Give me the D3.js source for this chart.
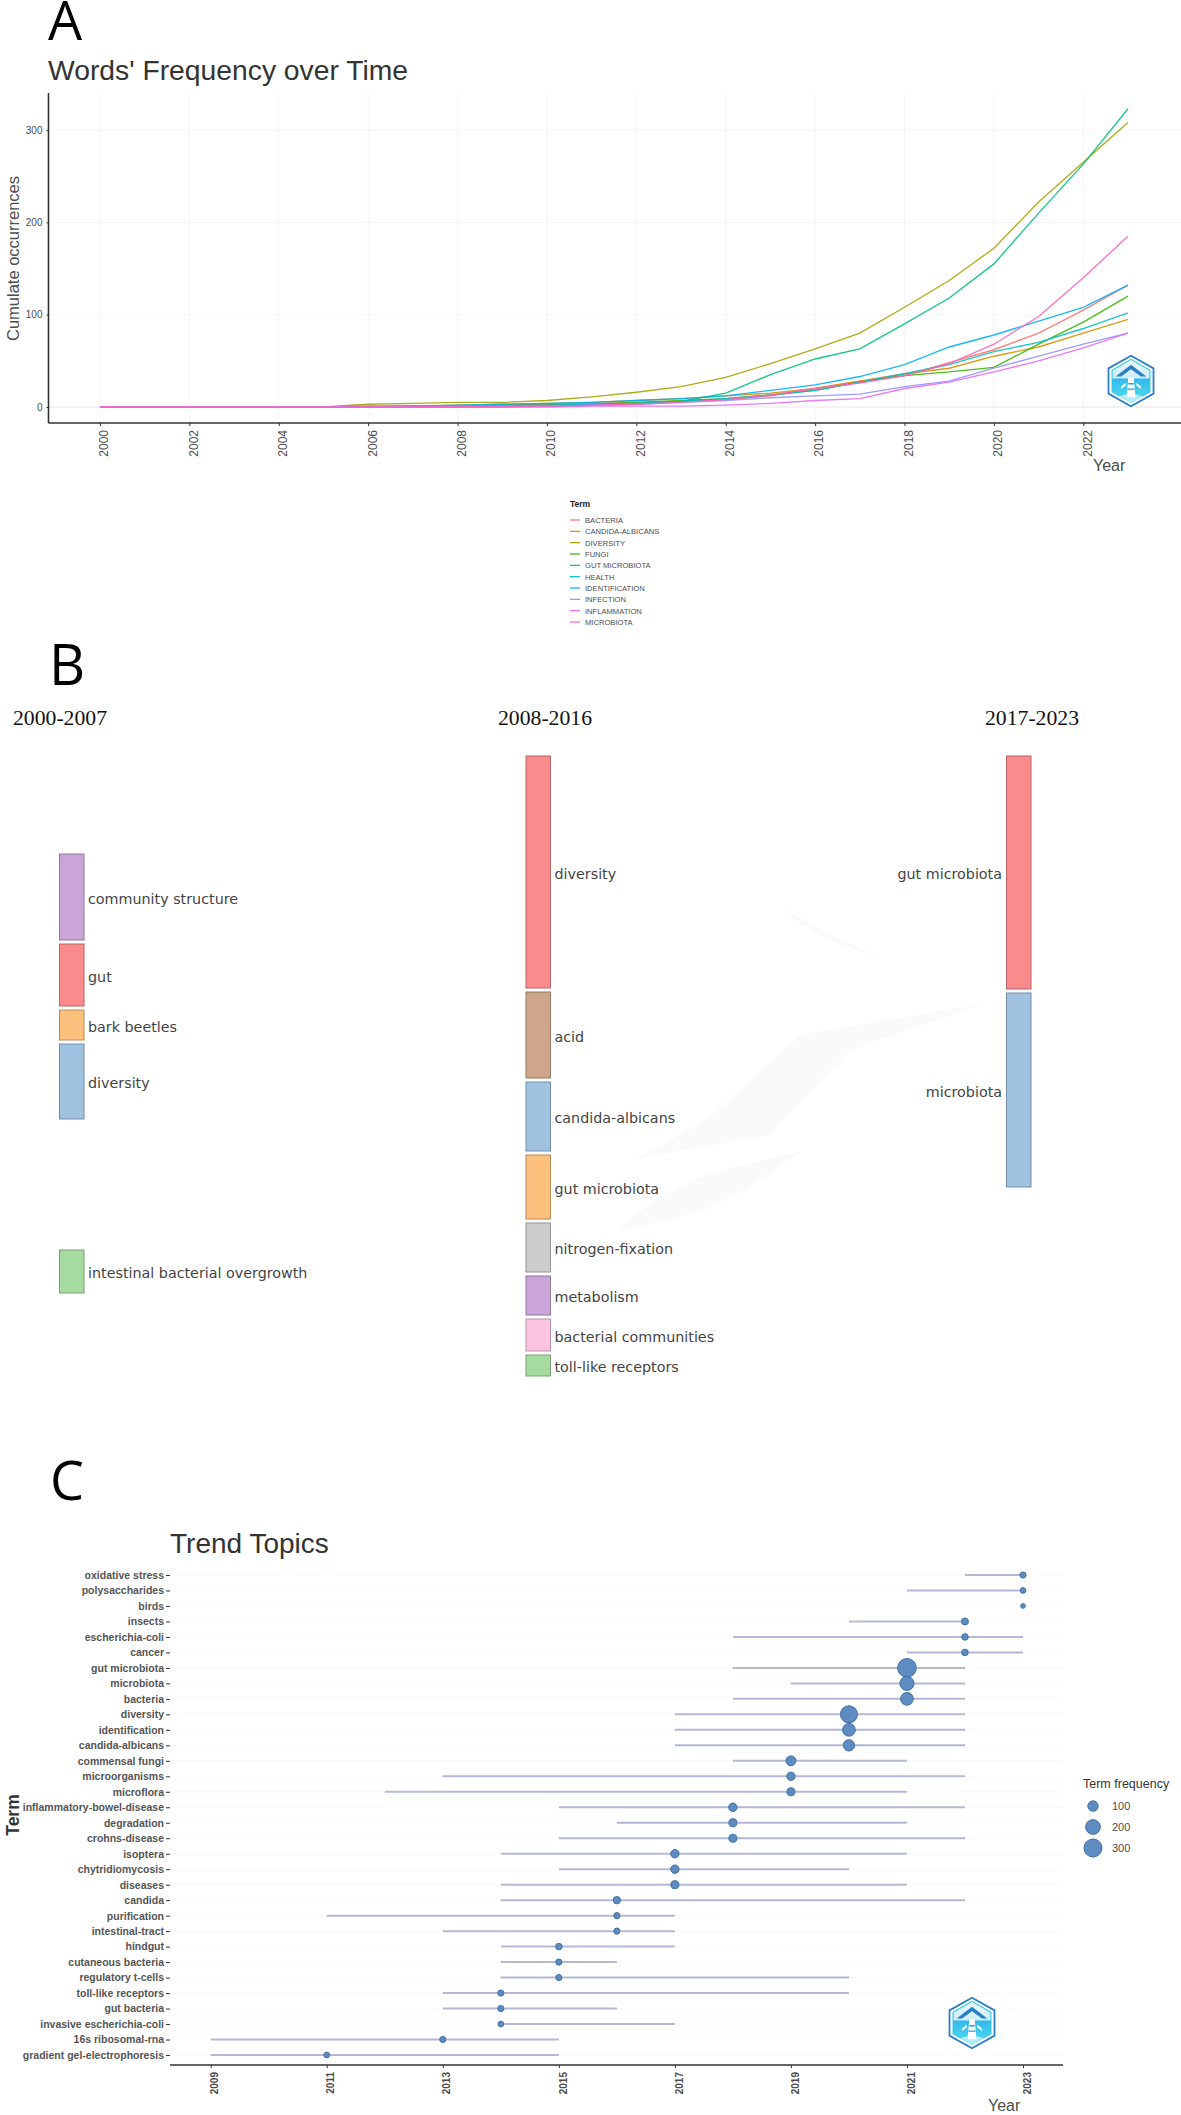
<!DOCTYPE html>
<html><head><meta charset="utf-8">
<script src="https://cdn.jsdelivr.net/npm/d3@7"></script>
<style>
html,body{margin:0;padding:0;background:#fff}
svg{display:block}
text{font-family:"Liberation Sans",Arial,sans-serif}
</style></head><body>
<svg id="c" width="1181" height="2115"></svg>
<script>
// ---------- Panel A data ----------
const years = d3.range(2000, 2024);
const bacteria        = [0,0,0,0,0,0,0,1,1,2,3,4,5,6,8,12,20,28,34,48,62,80,105,132];
const candidaAlbicans = [0,0,0,0,0,0,1,1,2,3,4,5,7,9,12,15,20,28,36,42,55,65,80,95];
const diversity       = [0,0,0,0,0,0,3,4,5,5,7,11,16,22,32,47,63,80,108,137,172,222,265,308];
const fungi           = [0,0,0,0,0,0,0,1,1,2,2,3,5,7,9,13,18,27,34,38,43,68,92,120];
const gutMicrobiota   = [0,0,0,0,0,0,0,0,0,0,1,2,3,6,15,35,52,63,90,118,155,210,263,323];
const health          = [0,0,0,0,0,0,0,0,1,1,2,3,4,6,9,13,18,27,36,46,60,70,85,102];
const identification  = [0,0,0,0,0,0,1,1,2,3,4,5,7,9,12,18,24,33,46,65,78,93,108,132];
const infection       = [0,0,0,0,0,0,0,0,1,1,1,2,3,5,7,10,12,14,22,28,42,55,68,80];
const inflammation    = [0,0,0,0,0,0,0,0,0,0,0,1,1,1,2,4,7,9,20,27,38,50,64,80];
const microbiota      = [0,0,0,0,0,0,0,0,0,1,1,2,3,5,8,13,20,26,34,47,68,98,140,185];
const termNames  = ["BACTERIA","CANDIDA-ALBICANS","DIVERSITY","FUNGI","GUT MICROBIOTA","HEALTH","IDENTIFICATION","INFECTION","INFLAMMATION","MICROBIOTA"];
const termValues = [bacteria,candidaAlbicans,diversity,fungi,gutMicrobiota,health,identification,infection,inflammation,microbiota];
const termColors = ["#F8766D","#D89000","#A3A500","#39B600","#00BF7D","#00BFC4","#00B0F6","#9590FF","#E76BF3","#FF62BC"];

// ---------- Panel B data ----------
const col1Terms   = ["community structure","gut","bark beetles","diversity","","intestinal bacterial overgrowth"];
const col1Weights = [86,62,30,75,123,43];
const col1Colors  = ["#c9a5d8","#f98b8d","#fdbf7c","#a0c3e2",null,"#a6dba0"];
const col2Terms   = ["diversity","acid","candida-albicans","gut microbiota","nitrogen-fixation","metabolism","bacterial communities","toll-like receptors"];
const col2Weights = [232,86,69,64,49,39,32,21];
const col2Colors  = ["#f98b8d","#cfa68b","#a0c3e2","#fdbf7c","#cccccc","#c9a5d8","#fdc4e2","#a6dba0"];
const col3Terms   = ["gut microbiota","microbiota"];
const col3Weights = [233,194];
const col3Colors  = ["#f98b8d","#a0c3e2"];
const periods     = ["2000-2007","2008-2016","2017-2023"];

// ---------- Panel C data ----------
const topics = ["oxidative stress","polysaccharides","birds","insects","escherichia-coli","cancer","gut microbiota","microbiota","bacteria","diversity","identification","candida-albicans","commensal fungi","microorganisms","microflora","inflammatory-bowel-disease","degradation","crohns-disease","isoptera","chytridiomycosis","diseases","candida","purification","intestinal-tract","hindgut","cutaneous bacteria","regulatory t-cells","toll-like receptors","gut bacteria","invasive escherichia-coli","16s ribosomal-rna","gradient gel-electrophoresis"];
const topicStart  = [2022,2021,2023,2020,2018,2021,2018,2019,2018,2017,2017,2017,2018,2013,2012,2015,2016,2015,2014,2015,2014,2014,2011,2013,2014,2014,2014,2013,2013,2014,2009,2009];
const topicMedian = [2023,2023,2023,2022,2022,2022,2021,2021,2021,2020,2020,2020,2019,2019,2019,2018,2018,2018,2017,2017,2017,2016,2016,2016,2015,2015,2015,2014,2014,2014,2013,2011];
const topicEnd    = [2023,2023,2023,2022,2023,2023,2022,2022,2022,2022,2022,2022,2021,2022,2021,2022,2021,2022,2021,2020,2021,2022,2017,2017,2017,2016,2020,2020,2016,2017,2015,2015];
const topicFreq   = [35,30,20,45,40,40,323,185,150,270,150,120,90,65,60,65,60,60,65,65,60,50,35,35,40,35,35,35,35,30,35,30];
const freqLegend  = [100,200,300];
const yearTicksC  = [2009,2011,2013,2015,2017,2019,2021,2023];

const svg = d3.select("#c");
const GREY = "#4d4d4d";

function logo(cx, cy, id){
  const g = svg.append("g").attr("transform",`translate(${cx},${cy}) scale(0.9)`);
  const defs = svg.append("defs");
  const lg = defs.append("linearGradient").attr("id",id).attr("x1",0).attr("x2",0).attr("y1",0).attr("y2",1);
  lg.append("stop").attr("offset","0").attr("stop-color","#eefaff");
  lg.append("stop").attr("offset","0.42").attr("stop-color","#cdeffb");
  lg.append("stop").attr("offset","0.46").attr("stop-color","#35b8ec");
  lg.append("stop").attr("offset","1").attr("stop-color","#4fe0ee");
  const hex = (w,h)=>[[0,-h],[w,-h/2],[w,h/2],[0,h],[-w,h/2],[-w,-h/2]].join(" ");
  g.append("polygon").attr("points",hex(25,28)).attr("fill","#fff").attr("stroke","#2a7fc6").attr("stroke-width",2);
  g.append("polygon").attr("points",hex(21,24)).attr("fill",`url(#${id})`).attr("stroke","#25c4e6").attr("stroke-width",1.2);
  g.append("path").attr("d","M-17,-5 L0,-18 L17,-5 L11,-5 L0,-13 L-11,-5Z").attr("fill","#2a7fc6");
  g.append("path").attr("d","M-5,18 L-3,-4 L3,-4 L5,18Z M-11,6 L-6,2 L-6,5 L-11,9Z M11,6 L6,2 L6,5 L11,9Z").attr("fill","#fff");
  g.append("path").attr("d","M-3,3 H3 M-4,9 H4").attr("stroke","#1aa5e0").attr("stroke-width",1.6);
  g.append("path").attr("d","M-16,18 Q0,11 16,18 L0,26Z").attr("fill","#fff").attr("opacity",0.55);
}

// ========== Panel letters ==========
const letters = [["A",48,39.5,54],["B",49,685,56],["C",50,1500,54]];
svg.selectAll("text.letter").data(letters).join("text").attr("class","letter")
  .attr("x",d=>d[1]).attr("y",d=>d[2]).attr("font-size",d=>d[3])
  .style("font-family","'Open Sans'").attr("fill","#000").text(d=>d[0]);

// ========== Panel A ==========
(function(){
  const x = d3.scaleLinear().domain([2000,2023]).range([100,1128]);
  const y = d3.scaleLinear().domain([0,300]).range([407,130]);
  const L = 48.5, R = 1181, T = 93, B = 423;
  const g = svg.append("g");
  g.append("text").attr("x",48).attr("y",80).attr("font-size",28.5).attr("fill","#333").attr("textLength",360).attr("lengthAdjust","spacingAndGlyphs").text("Words' Frequency over Time");
  const xt = d3.range(2000,2023,2);
  g.append("g").selectAll("line").data(xt).join("line").attr("x1",d=>x(d)).attr("x2",d=>x(d)).attr("y1",T).attr("y2",B).attr("stroke","#f5f5f5");
  g.append("g").selectAll("line").data([0,100,200,300]).join("line").attr("x1",L).attr("x2",R).attr("y1",d=>y(d)).attr("y2",d=>y(d)).attr("stroke",d=>d===0?"#e6e6e6":"#f5f5f5");
  const ya = g.append("g").attr("transform",`translate(${L},0)`).call(d3.axisLeft(y).tickValues([0,100,200,300]).tickSize(2).tickSizeOuter(0));
  ya.select(".domain").remove();
  ya.selectAll("line").attr("stroke","#333");
  ya.selectAll("text").attr("font-size",10).attr("fill",GREY).attr("x",-6);
  g.append("line").attr("x1",L).attr("x2",L).attr("y1",T).attr("y2",B).attr("stroke","#333").attr("stroke-width",1.6);
  const xa = g.append("g").attr("transform",`translate(0,${B})`).call(d3.axisBottom(x).tickValues(xt).tickFormat(d3.format("d")).tickSize(3).tickSizeOuter(0));
  xa.select(".domain").remove();
  xa.selectAll("line").attr("stroke","#333");
  xa.selectAll("text").attr("font-size",12).attr("fill",GREY).attr("text-anchor","end")
    .attr("x",-7).attr("y",0).attr("dy","0.32em")
    .attr("transform","translate(4,0) rotate(-90)");
  g.append("line").attr("x1",L).attr("x2",R).attr("y1",B).attr("y2",B).attr("stroke","#333").attr("stroke-width",1.6);
  const line = d3.line().x((d,i)=>x(years[i])).y(d=>y(d));
  g.append("g").selectAll("path").data(termValues).join("path").attr("d",line).attr("fill","none")
    .attr("stroke",(d,i)=>termColors[i]).attr("stroke-width",1.35).attr("stroke-opacity",0.9);
  g.append("text").attr("transform","translate(19,258.5) rotate(-90)").attr("text-anchor","middle").attr("font-size",16.5).attr("fill",GREY).text("Cumulate occurrences");
  g.append("text").attr("x",1093).attr("y",471).attr("font-size",16).attr("fill",GREY).text("Year");
  // legend
  const lg = g.append("g");
  lg.append("text").attr("x",570).attr("y",507).attr("font-size",8.5).attr("font-weight","bold").attr("fill","#222").text("Term");
  const ly = d3.scalePoint().domain(termNames).range([520,622]);
  lg.selectAll("line").data(termNames).join("line").attr("x1",570).attr("x2",580).attr("y1",d=>ly(d)).attr("y2",d=>ly(d)).attr("stroke",(d,i)=>termColors[i]).attr("stroke-width",1.2);
  lg.selectAll("text.i").data(termNames).join("text").attr("class","i").attr("x",585).attr("y",d=>ly(d)+3).attr("font-size",7.6).attr("fill",GREY).text(d=>d);
  logo(1131,381,"lgA");
})();

// ========== Panel B ==========
(function(){
  const g = svg.append("g");
  // faint watermark
  const wm = [
    "M782,908 Q830,935 880,958 Q820,940 790,915Z",
    "M800,1035 L985,1003 Q880,1040 850,1050 L770,1135 L630,1160 Q700,1130 740,1090Z",
    "M800,1152 L745,1190 L700,1212 L615,1232 Q660,1190 720,1170Z"
  ];
  g.selectAll("path.w").data(wm).join("path").attr("class","w").attr("d",d=>d).attr("fill","#fafafa");
  const px = d3.scaleLinear().domain([0,100]).range([0,100]);
  const GAP = 4;
  const cols = [
    {t:col1Terms,w:col1Weights,c:col1Colors,x0:59.5,top:854,side:"r"},
    {t:col2Terms,w:col2Weights,c:col2Colors,x0:526,top:756,side:"r"},
    {t:col3Terms,w:col3Weights,c:col3Colors,x0:1006.5,top:756,side:"l"}
  ];
  const headX = [13,498,985];
  g.selectAll("text.h").data(periods).join("text").attr("class","h").attr("x",(d,i)=>headX[i]).attr("y",725)
    .attr("font-size",20).style("font-family","'Liberation Serif'").attr("fill","#111").attr("textLength",94).attr("lengthAdjust","spacingAndGlyphs").text(d=>d);
  cols.forEach(col=>{
    let y0 = col.top;
    col.t.forEach((term,i)=>{
      const h = px(col.w[i]);
      if(col.c[i]){
        const base = d3.color(col.c[i]).darker(0.9);
        g.append("rect").attr("x",col.x0).attr("y",y0).attr("width",24.5).attr("height",h)
          .attr("fill",col.c[i]).attr("stroke",base.formatHex()).attr("stroke-width",1);
        const t = g.append("text").attr("y",y0+h/2+1.5).attr("dy","0.35em").attr("font-size",14.3)
          .style("font-family","'DejaVu Sans'").attr("fill","#444").text(term);
        if(col.side==="r") t.attr("x",col.x0+28.5);
        else t.attr("x",col.x0-4.5).attr("text-anchor","end");
      }
      y0 += h + GAP;
    });
  });
})();

// ========== Panel C ==========
(function(){
  const g = svg.append("g");
  const x = d3.scaleLinear().domain([2009,2023]).range([210.7,1023]);
  const y = d3.scalePoint().domain(topics).range([1575,2055]);
  const r = d3.scaleSqrt().domain([0,300]).range([0,9]);
  const B = 2065;
  g.append("text").attr("x",170).attr("y",1553).attr("font-size",28).attr("fill","#333").text("Trend Topics");
  g.append("g").selectAll("line").data(topics).join("line").attr("x1",170).attr("x2",1063).attr("y1",d=>y(d)).attr("y2",d=>y(d)).attr("stroke","#f8f8f8");
  const ya = g.append("g").attr("transform","translate(170,0)").call(d3.axisLeft(y).tickSize(4).tickSizeOuter(0));
  ya.select(".domain").remove();
  ya.selectAll("line").attr("stroke","#333");
  ya.selectAll("text").attr("font-size",10.5).attr("font-weight","bold").attr("fill","#555").attr("x",-6);
  const xa = g.append("g").attr("transform",`translate(0,${B})`).call(d3.axisBottom(x).tickValues(yearTicksC).tickFormat(d3.format("d")).tickSize(3).tickSizeOuter(0));
  xa.select(".domain").remove();
  xa.selectAll("line").attr("stroke","#333");
  xa.selectAll("text").attr("font-size",10).attr("font-weight","bold").attr("fill",GREY).attr("text-anchor","end")
    .attr("x",-7).attr("y",0).attr("dy","0.32em").attr("transform","translate(4,0) rotate(-90)");
  g.append("line").attr("x1",170).attr("x2",1063).attr("y1",B).attr("y2",B).attr("stroke","#333").attr("stroke-width",1.6);
  g.append("g").selectAll("line").data(topics).join("line")
    .attr("x1",(d,i)=>x(topicStart[i])).attr("x2",(d,i)=>x(topicEnd[i]))
    .attr("y1",d=>y(d)).attr("y2",d=>y(d)).attr("stroke","#b3b9d4").attr("stroke-width",2);
  g.append("g").selectAll("circle").data(topics).join("circle")
    .attr("cx",(d,i)=>x(topicMedian[i])).attr("cy",d=>y(d)).attr("r",(d,i)=>r(topicFreq[i]))
    .attr("fill","#5f8cc0").attr("stroke","#3f70a8").attr("stroke-width",1);
  g.append("text").attr("transform","translate(19,1815) rotate(-90)").attr("text-anchor","middle").attr("font-size",17.5).attr("font-weight","bold").attr("fill","#333").text("Term");
  g.append("text").attr("x",988).attr("y",2111).attr("font-size",16).attr("fill",GREY).text("Year");
  // legend
  g.append("text").attr("x",1083).attr("y",1788).attr("font-size",12.5).attr("fill","#333").text("Term frequency");
  const ly = d3.scalePoint().domain(freqLegend).range([1806,1848]);
  g.selectAll("circle.l").data(freqLegend).join("circle").attr("class","l").attr("cx",1093).attr("cy",d=>ly(d)).attr("r",d=>r(d))
    .attr("fill","#5f8cc0").attr("stroke","#3f70a8");
  g.selectAll("text.l").data(freqLegend).join("text").attr("class","l").attr("x",1112).attr("y",d=>ly(d)+4).attr("font-size",11).attr("fill",GREY).text(d=>d);
  logo(972,2023,"lgC");
})();
</script>
</body></html>
